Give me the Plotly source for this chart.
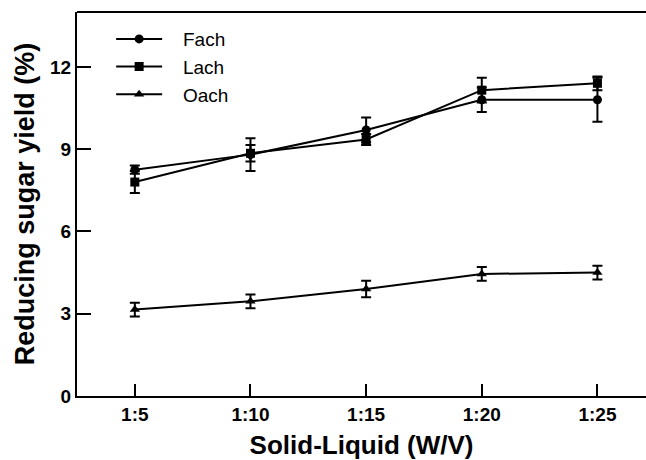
import plotly.graph_objects as go

categories = ["1:5", "1:10", "1:15", "1:20", "1:25"]
fach = [8.25, 8.8, 9.7, 10.8, 10.8]
fach_err = [0.15, 0.6, 0.45, 0.45, 0.8]
lach = [7.8, 8.85, 9.35, 11.15, 11.4]
lach_err = [0.4, 0.3, 0.2, 0.45, 0.25]
oach = [3.15, 3.45, 3.9, 4.45, 4.5]
oach_err = [0.25, 0.25, 0.3, 0.25, 0.25]
y_ticks = [0, 3, 6, 9, 12]

series = [
    ("Fach", fach, fach_err, "circle"),
    ("Lach", lach, lach_err, "square"),
    ("Oach", oach, oach_err, "triangle-up"),
]

fig = go.Figure()
for name, vals, errs, sym in series:
    fig.add_trace(go.Scatter(
        x=categories, y=vals, name="\u00a0\u00a0\u00a0" + name, mode="lines+markers",
        line=dict(color="black", width=2),
        marker=dict(symbol=sym, size=9, color="black"),
        error_y=dict(type="data", array=errs, visible=True, color="black",
                     thickness=2, width=5),
    ))

font_family = "Liberation Sans, Arial, sans-serif"
fig.update_layout(
    width=646, height=460,
    margin=dict(l=77, r=0, t=12, b=64),
    plot_bgcolor="white", paper_bgcolor="white",
    font=dict(family=font_family, color="black"),
    showlegend=True,
    legend=dict(x=0.06, y=0.979, xanchor="left", yanchor="top",
                font=dict(size=19, family=font_family, color="black"),
                bgcolor="rgba(0,0,0,0)", itemwidth=46, tracegroupgap=0),
    xaxis=dict(
        type="category", range=[-0.5, 4.42],
        showline=True, linecolor="black", linewidth=2, mirror=False,
        ticks="inside", ticklen=12, tickwidth=1.5, tickcolor="black",
        showgrid=False, zeroline=False,
        tickfont=dict(size=19, family="Liberation Sans, Arial", weight="bold"),
        title=dict(text="Solid-Liquid (W/V)", standoff=14,
                   font=dict(size=26, family="Liberation Sans, Arial", weight="bold")),
    ),
    yaxis=dict(
        range=[0, 14], tickvals=y_ticks,
        showline=True, linecolor="black", linewidth=2,
        ticks="inside", ticklen=14, tickwidth=1.5, tickcolor="black",
        showgrid=False, zeroline=False,
        tickfont=dict(size=19, family="Liberation Sans, Arial", weight="bold"),
        title=dict(text="Reducing sugar yield (%)", standoff=8,
                   font=dict(size=27, family="Liberation Sans, Arial", weight="bold")),
    ),
)
# top frame line
fig.add_shape(type="line", xref="paper", yref="paper", x0=0, x1=1, y0=1, y1=1,
              line=dict(color="black", width=2))

fig.write_html("out.html")
